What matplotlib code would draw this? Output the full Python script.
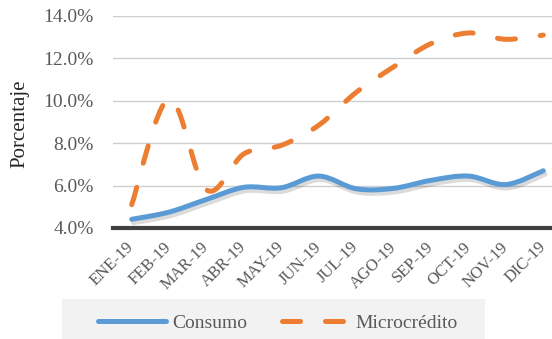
import numpy as np
import matplotlib.pyplot as plt
from matplotlib.path import Path
from matplotlib.patches import PathPatch, Rectangle
from matplotlib.lines import Line2D
import matplotlib.patheffects as pe

plt.rcParams['font.family'] = ['Liberation Serif', 'DejaVu Serif']

meses = ['ENE-19', 'FEB-19', 'MAR-19', 'ABR-19', 'MAY-19', 'JUN-19',
         'JUL-19', 'AGO-19', 'SEP-19', 'OCT-19', 'NOV-19', 'DIC-19']
consumo = [4.41, 4.75, 5.35, 5.92, 5.9, 6.45, 5.85, 5.87, 6.25, 6.45, 6.05, 6.7]
microcredito = [5.1, 10.1, 5.8, 7.5, 7.9, 8.85, 10.4, 11.6, 12.7, 13.2, 12.9, 13.1]

azul = '#5B9BD5'
naranja = '#ED7D31'
gris = '#595959'


def curva_suave(x, y, t=1/6):
    # curva tipo Excel (bezier cúbica por tramos)
    x = np.asarray(x, float)
    y = np.asarray(y, float)
    n = len(x)
    verts = [(x[0], y[0])]
    codes = [Path.MOVETO]
    for i in range(n - 1):
        x0, y0 = (x[i-1], y[i-1]) if i > 0 else (x[i], y[i])
        x3, y3 = (x[i+2], y[i+2]) if i + 2 < n else (x[i+1], y[i+1])
        c1 = (x[i] + (x[i+1] - x0) * t, y[i] + (y[i+1] - y0) * t)
        c2 = (x[i+1] - (x3 - x[i]) * t, y[i+1] - (y3 - y[i]) * t)
        verts += [c1, c2, (x[i+1], y[i+1])]
        codes += [Path.CURVE4] * 3
    return Path(verts, codes)


fig = plt.figure(figsize=(5.52, 3.39), dpi=100)
ax = fig.add_axes([113/552, 1-228/339, 449/552, 212/339])

xs = np.arange(len(meses))
sombra = [pe.SimpleLineShadow(offset=(1.2, -2.5), shadow_color='black', alpha=0.14),
          pe.Normal()]

p1 = PathPatch(curva_suave(xs, consumo), facecolor='none', edgecolor=azul,
               linewidth=3.6, capstyle='round', joinstyle='round', zorder=3)
p1.set_path_effects(sombra)
ax.add_patch(p1)

p2 = PathPatch(curva_suave(xs, microcredito), facecolor='none', edgecolor=naranja,
               linewidth=3.6, linestyle=(0, (3.6, 5.0)), capstyle='round',
               joinstyle='round', zorder=3)
ax.add_patch(p2)

ax.set_xlim(-0.5, len(meses) - 0.5)
ax.set_ylim(4, 14)
ax.set_yticks(np.arange(4, 14.1, 2))
ax.set_yticklabels([f'{v:.1f}%' for v in np.arange(4, 14.1, 2)])
ax.set_xticks(xs)
ax.set_xticklabels(meses, rotation=45, ha='right', va='center',
                   rotation_mode='anchor')

for s in ['top', 'right', 'left']:
    ax.spines[s].set_visible(False)
ax.spines['bottom'].set_color('#404040')
ax.spines['bottom'].set_linewidth(3)
ax.spines['bottom'].set_zorder(4)

ax.grid(axis='y', color='#cfcfcf', linewidth=1)
ax.set_axisbelow(True)
ax.tick_params(axis='y', length=0, pad=14, labelsize=14, labelcolor=gris)
ax.tick_params(axis='x', length=0, pad=12, labelsize=12, labelcolor=gris)

fig.text(20/552, 1-124/339, 'Porcentaje', rotation=90, ha='center', va='center',
         fontsize=15, color='#262626')

fig.patches.append(Rectangle((62/552, 0), 423/552, 40/339, transform=fig.transFigure,
                             facecolor='#f2f2f2', edgecolor='none', zorder=0))

h1 = Line2D([], [], color=azul, linewidth=3.6, solid_capstyle='round')
h2 = Line2D([], [], color=naranja, linewidth=3.6, linestyle=(0, (3.6, 5.0)),
            dash_capstyle='round')
leg = fig.legend([h1, h2], ['Consumo', 'Microcrédito'], loc='center',
                 bbox_to_anchor=(278/552, 1-323/339), ncol=2, frameon=False,
                 fontsize=14, handlelength=3.5, handletextpad=0.3,
                 columnspacing=1.8, borderpad=0)
for t in leg.get_texts():
    t.set_color(gris)

fig.savefig('out.png', dpi=100)
